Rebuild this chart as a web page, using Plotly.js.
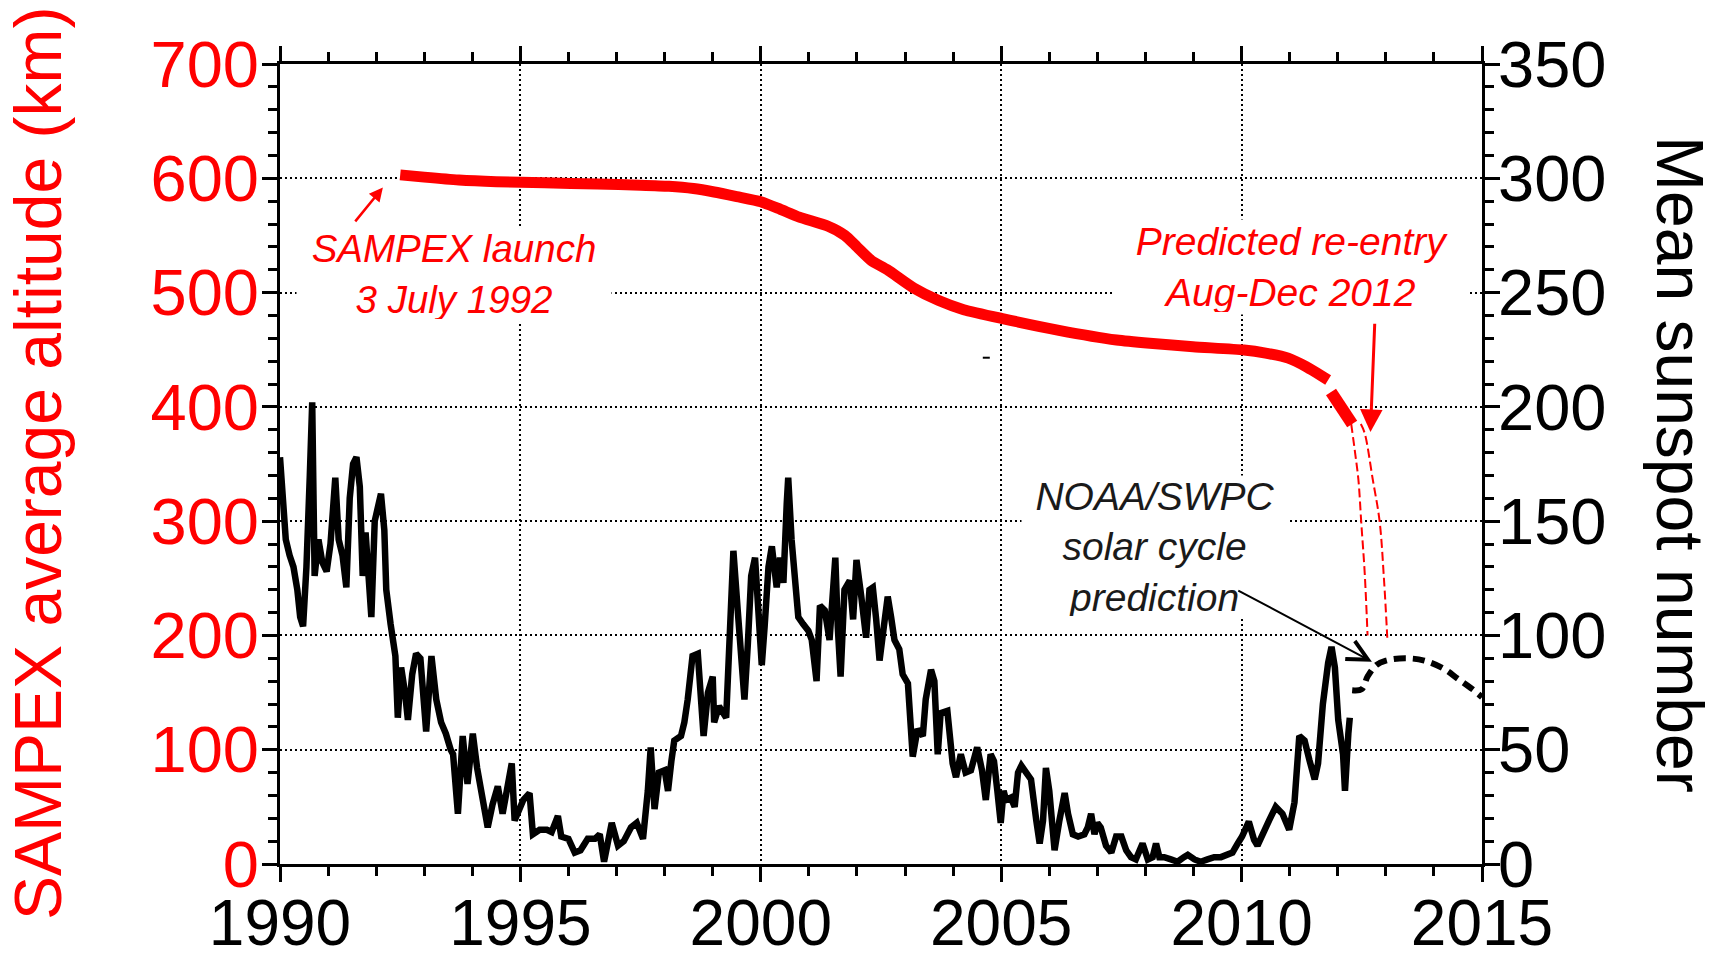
<!DOCTYPE html>
<html>
<head>
<meta charset="utf-8">
<script src="https://cdn.plot.ly/plotly-3.0.1.min.js"></script>
<style>
  html, body { margin: 0; padding: 0; background: #ffffff; }
  #chart { width: 1721px; height: 953px; }
</style>
</head>
<body>
<div id="chart"></div>
<script>
// ---------------- DATA ----------------
// Monthly-ish mean sunspot number (right axis)
const sunYears = [
  1990.00,1990.05,1990.12,1990.20,1990.28,1990.36,1990.42,1990.48,1990.55,1990.62,1990.67,1990.72,1990.80,1990.88,1990.97,
  1991.05,1991.15,1991.22,1991.30,1991.38,1991.45,1991.52,1991.59,1991.66,1991.72,1991.78,1991.86,1991.90,1991.97,
  1992.05,1992.10,1992.17,1992.21,1992.30,1992.40,1992.45,1992.52,1992.60,1992.66,1992.75,1992.83,1992.92,
  1993.04,1993.15,1993.25,1993.35,1993.45,1993.55,1993.60,1993.70,1993.80,1993.90,
  1994.01,1994.10,1994.20,1994.32,1994.42,1994.53,1994.63,1994.72,1994.82,1994.88,
  1995.00,1995.06,1995.19,1995.26,1995.40,1995.55,1995.65,1995.78,1995.85,
  1996.00,1996.13,1996.25,1996.40,1996.55,1996.65,1996.74,1996.90,
  1997.03,1997.15,1997.30,1997.42,1997.55,1997.65,1997.71,1997.79,1997.88,
  1998.00,1998.07,1998.14,1998.20,1998.34,1998.41,1998.48,1998.58,1998.69,1998.76,1998.81,1998.90,
  1999.00,1999.03,1999.13,1999.28,1999.35,1999.43,1999.52,1999.66,1999.73,1999.80,1999.88,1999.95,
  2000.02,2000.08,2000.16,2000.23,2000.33,2000.40,2000.47,2000.54,2000.57,2000.64,2000.71,2000.78,2000.88,2000.99,
  2001.06,2001.12,2001.16,2001.23,2001.33,2001.43,2001.50,2001.55,2001.60,2001.66,2001.74,2001.85,2001.92,2001.99,
  2002.09,2002.19,2002.26,2002.33,2002.40,2002.47,2002.56,2002.64,2002.71,2002.78,2002.88,2002.95,
  2003.06,2003.12,2003.16,2003.26,2003.37,2003.43,2003.54,2003.61,2003.68,2003.74,2003.88,2003.99,
  2004.06,2004.16,2004.26,2004.37,2004.50,2004.60,2004.68,2004.78,2004.85,2004.92,2004.99,
  2005.05,2005.10,2005.20,2005.28,2005.35,2005.42,2005.52,2005.62,2005.73,2005.80,2005.87,2005.93,
  2006.00,2006.05,2006.11,2006.21,2006.32,2006.39,2006.49,2006.60,2006.73,2006.80,2006.87,2006.94,
  2007.00,2007.07,2007.18,2007.29,2007.39,2007.50,2007.60,2007.70,2007.80,2007.94,
  2008.05,2008.15,2008.22,2008.29,2008.39,2008.53,2008.67,2008.80,2008.88,
  2009.02,2009.15,2009.29,2009.43,2009.57,2009.70,2009.81,2009.92,
  2010.01,2010.15,2010.26,2010.33,2010.43,2010.57,2010.71,2010.85,2010.99,
  2011.10,2011.20,2011.31,2011.41,2011.52,2011.59,2011.69,2011.80,2011.87,2011.94,
  2012.01,2012.11,2012.15,2012.22,2012.25
];
const sunspots = [
  178,160,142,135,130,120,108,104,130,170,202,126,142,132,128,
  140,169,142,135,121,160,175,178,165,126,145,125,108,150,
  160,162,146,120,105,91,64,86,75,63,83,92,90,
  58,91,72,62,57,50,48,22,56,35,
  57,42,31,16,26,34,22,32,44,19,
  26,28,31,13,15,15,14,21,12,
  11,5,6,11,11,13,1,18,
  8,10,16,18,11,32,51,24,40,
  41,32,45,54,56,62,72,91,92,75,56,75,
  82,62,69,64,95,137,111,72,96,126,134,104,
  87,104,130,139,121,134,123,158,169,142,126,108,105,102,
  98,85,80,113,111,98,120,134,104,82,120,124,107,133,
  117,99,120,121,107,89,104,117,108,98,94,83,
  79,54,47,59,56,72,85,80,48,66,67,44,
  38,48,40,41,51,41,28,48,45,32,18,
  32,28,29,25,40,43,40,37,19,9,19,42,
  32,15,6,19,31,22,13,12,13,16,22,13,
  18,16,8,5,12,12,6,3,2,9,
  2,3,9,3,3,2,1,3,4,
  2,1,2,3,3,4,5,9,
  12,18.5,10.5,8,13,19,25,22,15,
  27,56,54,45.5,37,44,70,88,95,86,
  63,48,32,57,64
];

// NOAA/SWPC solar cycle prediction (right axis)
const predYears = [2012.30, 2012.50, 2012.62, 2012.80, 2013.00, 2013.40, 2013.80, 2014.20, 2014.50, 2014.80, 2015.00];
const predSunspots = [76, 76.5, 82, 87, 89, 90, 89, 85.5, 81, 76.5, 73];

// SAMPEX average altitude (left axis, km)
const altYears = [1992.50, 1993.00, 1993.72, 1994.50, 1995.50, 1996.60, 1997.50, 1998.09, 1998.60, 1999.03, 1999.50, 2000.00,
  2000.40, 2000.80, 2001.40, 2001.75, 2002.00, 2002.30, 2002.63, 2003.18, 2003.70, 2004.22, 2005.05, 2006.20, 2007.40,
  2008.09, 2008.99, 2010.05, 2010.50, 2010.97, 2011.35, 2011.80];
const altitude = [603, 601, 598.5, 597, 596, 595, 594, 593, 591, 588, 584, 579.5,
  573, 566, 558, 550, 540, 528, 520, 504, 493, 485, 477, 467, 458.5,
  455.6, 452.6, 449.7, 447, 442.6, 435, 423.5];

// Latest altitude segment (left axis, km)
const altYears2 = [2011.86, 2011.95, 2012.05, 2012.18, 2012.30];
const altitude2 = [413, 408, 402, 394, 385];

// Single stray altitude sample (left axis, km)
const strayYears = [2004.69];
const strayAlt = [443];

// Predicted decay curves (left axis, km)
const decayYearsA = [2012.28, 2012.36, 2012.43, 2012.49, 2012.56, 2012.62];
const decayAltA = [385, 360, 336, 298, 255, 200];
const decayYearsB = [2012.48, 2012.56, 2012.73, 2012.87, 2012.96, 2013.03];
const decayAltB = [385, 377, 336, 300, 250, 198];

// Tick labels
const xTickVals = [1990, 1995, 2000, 2005, 2010, 2015];
const xTickText = ['1990', '1995', '2000', '2005', '2010', '2015'];
const leftTickVals = [0, 100, 200, 300, 400, 500, 600, 700];
const leftTickText = ['0', '100', '200', '300', '400', '500', '600', '700'];
const rightTickVals = [0, 50, 100, 150, 200, 250, 300, 350];
const rightTickText = ['0', '50', '100', '150', '200', '250', '300', '350'];

// ---------------- PLOT ----------------
const FONT = 'Liberation Sans, Arial, Helvetica, sans-serif';
const RED = '#ff0000';

const traces = [
  { x: sunYears, y: sunspots, yaxis: 'y2', type: 'scatter', mode: 'lines',
    line: { color: '#000000', width: 6.5 }, hoverinfo: 'skip' },
  { x: predYears, y: predSunspots, yaxis: 'y2', type: 'scatter', mode: 'lines',
    line: { color: '#000000', width: 6, dash: '12px,7px', shape: 'spline' }, hoverinfo: 'skip' },
  { x: altYears, y: altitude, yaxis: 'y', type: 'scatter', mode: 'lines',
    line: { color: RED, width: 11, shape: 'spline', smoothing: 0.6 }, hoverinfo: 'skip' },
  { x: altYears2, y: altitude2, yaxis: 'y', type: 'scatter', mode: 'lines',
    line: { color: RED, width: 12 }, hoverinfo: 'skip' },
  { x: strayYears, y: strayAlt, yaxis: 'y', type: 'scatter', mode: 'markers',
    marker: { symbol: 'line-ew', size: 5, color: '#000000', line: { color: '#000000', width: 2 } }, hoverinfo: 'skip' },
  { x: decayYearsA, y: decayAltA, yaxis: 'y', type: 'scatter', mode: 'lines',
    line: { color: RED, width: 2, dash: '9px,4px', shape: 'spline' }, hoverinfo: 'skip' },
  { x: decayYearsB, y: decayAltB, yaxis: 'y', type: 'scatter', mode: 'lines',
    line: { color: RED, width: 2, dash: '9px,4px', shape: 'spline' }, hoverinfo: 'skip' }
];

const axisCommon = {
  ticks: 'outside', ticklen: 15, tickwidth: 3, tickcolor: '#000000',
  showline: true, linewidth: 3, linecolor: '#000000',
  zeroline: false, fixedrange: true
};

const layout = {
  width: 1721, height: 953,
  margin: { l: 280, r: 239, t: 64, b: 89, pad: 0 },
  paper_bgcolor: '#ffffff', plot_bgcolor: '#ffffff',
  showlegend: false,
  font: { family: FONT },
  xaxis: Object.assign({}, axisCommon, {
    range: [1990, 2015], tickmode: 'array', tickvals: xTickVals, ticktext: xTickText,
    mirror: 'ticks',
    showgrid: true, gridcolor: '#000000', gridwidth: 2, griddash: '2px,3px',
    tickfont: { family: FONT, size: 64, color: '#000000' },
    ticklabelstandoff: -14,
    minor: { ticks: 'outside', ticklen: 9, tickwidth: 3, tickcolor: '#000000', dtick: 1, tick0: 1990, showgrid: false }
  }),
  yaxis: Object.assign({}, axisCommon, {
    range: [0, 700], tickmode: 'array', tickvals: leftTickVals, ticktext: leftTickText,
    showgrid: true, gridcolor: '#000000', gridwidth: 2, griddash: '2px,3px',
    tickfont: { family: FONT, size: 65, color: RED },
    ticklabelstandoff: -10,
    minor: { ticks: 'outside', ticklen: 9, tickwidth: 3, tickcolor: '#000000', dtick: 20, tick0: 0, showgrid: false }
  }),
  yaxis2: Object.assign({}, axisCommon, {
    range: [0, 350], overlaying: 'y', side: 'right', anchor: 'x',
    tickmode: 'array', tickvals: rightTickVals, ticktext: rightTickText,
    showgrid: false,
    tickfont: { family: FONT, size: 65, color: '#000000' },
    ticklabelstandoff: -15,
    minor: { ticks: 'outside', ticklen: 9, tickwidth: 3, tickcolor: '#000000', dtick: 10, tick0: 0, showgrid: false }
  }),
  annotations: [
    // axis titles
    { text: 'SAMPEX average altitude (km)', xref: 'paper', yref: 'paper', x: 0, y: 0.5,
      xanchor: 'center', yanchor: 'middle', xshift: -242, textangle: -90, showarrow: false,
      font: { family: FONT, size: 66, color: RED } },
    { text: 'Mean sunspot number', xref: 'paper', yref: 'paper', x: 1, y: 0.5,
      xanchor: 'center', yanchor: 'middle', xshift: 198, textangle: 90, showarrow: false,
      font: { family: FONT, size: 66, color: '#000000' } },
    // text labels with white boxes (they interrupt the grid)
    { text: '<i>SAMPEX launch</i><br><i>3 July 1992</i>', xref: 'x', yref: 'y', x: 1993.62, y: 516,
      xanchor: 'center', yanchor: 'middle', showarrow: false, bgcolor: '#ffffff', borderpad: 2,
      width: 310, height: 90,
      font: { family: FONT, size: 38.5, color: RED } },
    { text: '<i>Predicted re-entry</i><br><i>Aug-Dec 2012</i>', xref: 'x', yref: 'y', x: 2011.05, y: 522,
      xanchor: 'center', yanchor: 'middle', showarrow: false, bgcolor: '#ffffff', borderpad: 2,
      width: 350, height: 90,
      font: { family: FONT, size: 39, color: RED } },
    { text: '<i>NOAA/SWPC</i><br><i>solar cycle</i><br><i>prediction</i>', xref: 'x', yref: 'y', x: 2008.2, y: 277,
      xanchor: 'center', yanchor: 'middle', showarrow: false, bgcolor: '#ffffff', borderpad: 2,
      width: 262, height: 138,
      font: { family: FONT, size: 39, color: '#1a1a1a' } },
    // arrows
    { text: '', xref: 'x', yref: 'y', axref: 'x', ayref: 'y', x: 1992.14, y: 592, ax: 1991.54, ay: 561,
      showarrow: true, arrowhead: 2, arrowsize: 1.1, arrowwidth: 2.5, arrowcolor: RED, standoff: 0 },
    { text: '', xref: 'x', yref: 'y', axref: 'x', ayref: 'y', x: 2012.68, y: 378, ax: 2012.77, ay: 474,
      showarrow: true, arrowhead: 2, arrowsize: 1.5, arrowwidth: 3, arrowcolor: RED, standoff: 0 },
    { text: '', xref: 'x', yref: 'y', axref: 'x', ayref: 'y', x: 2012.71, y: 177, ax: 2009.9, ay: 240,
      showarrow: true, arrowhead: 5, arrowsize: 2, arrowwidth: 2, arrowcolor: '#000000', standoff: 0 }
  ]
};

Plotly.newPlot('chart', traces, layout, { displayModeBar: false, responsive: false, staticPlot: true });
</script>
</body>
</html>
